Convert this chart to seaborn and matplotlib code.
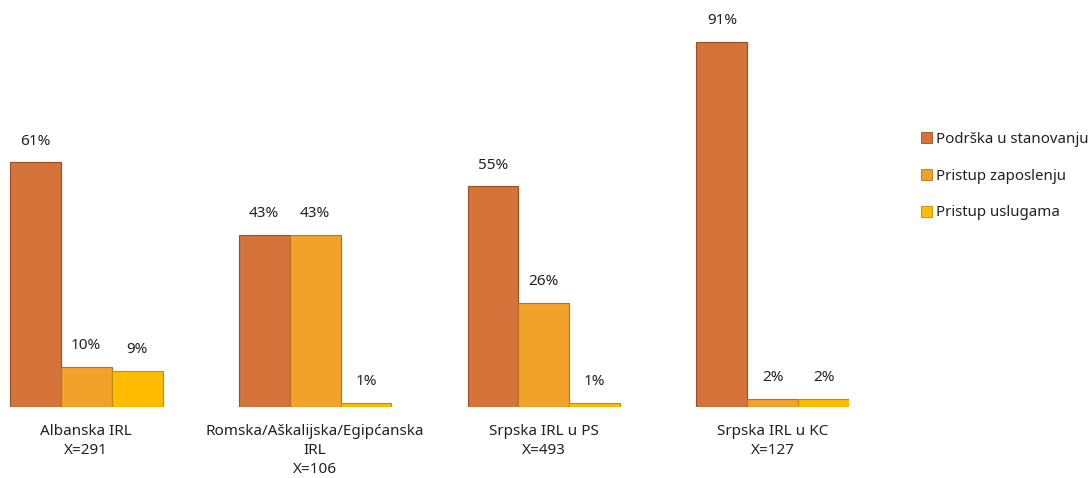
import matplotlib
matplotlib.use("Agg")
import matplotlib.pyplot as plt
import seaborn as sns
import pandas as pd

groups = ["Albanska IRL\nX=291", "Romska/Aškalijska/Egipćanska\nIRL\nX=106",
          "Srpska IRL u PS\nX=493", "Srpska IRL u KC\nX=127"]
series = ["Podrška u stanovanju", "Pristup zaposlenju", "Pristup uslugama"]
housing = [61, 43, 55, 91]
employment = [10, 43, 26, 2]
services = [9, 1, 1, 2]

colors = ["#D4733A", "#F2A12A", "#FFBC00"]
edges = ["#9C4E22", "#B8741A", "#C08E00"]

rows = []
for s, vals in zip(series, [housing, employment, services]):
    for g, v in zip(groups, vals):
        rows.append({"group": g, "series": s, "value": v})
df = pd.DataFrame(rows)

sns.set_theme(style="white")
plt.rcParams["font.family"] = ["Noto Sans", "DejaVu Sans"]

fig = plt.figure(figsize=(10.89, 4.78), dpi=100)
ax = fig.add_axes([10 / 1089, 1 - 407 / 478, (849 - 10) / 1089, 401 / 478])

sns.barplot(data=df, x="group", y="value", hue="series", order=groups,
            hue_order=series, palette=colors, width=0.667, gap=0,
            saturation=1, ax=ax, legend=True)

for i, cont in enumerate(ax.containers):
    for bar in cont:
        bar.set_edgecolor(edges[i])
        bar.set_linewidth(0.8)
    ax.bar_label(cont, labels=[f"{int(round(b.get_height()))}%" for b in cont],
                 padding=10, fontsize=11, color="#222222")

ax.set_xlim(-0.333, 3.333)
ax.set_ylim(0, 100)
ax.set_xlabel("")
ax.set_ylabel("")
ax.set_yticks([])
ax.tick_params(axis="x", length=0, pad=12, labelsize=11, labelcolor="#222222")
for lab in ax.get_xticklabels():
    lab.set_linespacing(1.38)
for sp in ax.spines.values():
    sp.set_visible(False)

handles, labels = ax.get_legend_handles_labels()
for h, ec in zip(handles, edges):
    h.set_edgecolor(ec)
    h.set_linewidth(0.6)
ax.legend(handles, labels, loc="center left", bbox_to_anchor=(921 / 1089, 1 - 176 / 478),
          bbox_transform=fig.transFigure, frameon=False, fontsize=10.8,
          handlelength=0.75, handleheight=0.75, handletextpad=0.25, labelspacing=1.45,
          borderaxespad=0, borderpad=0, labelcolor="#222222")

fig.savefig("out.png", dpi=100)
